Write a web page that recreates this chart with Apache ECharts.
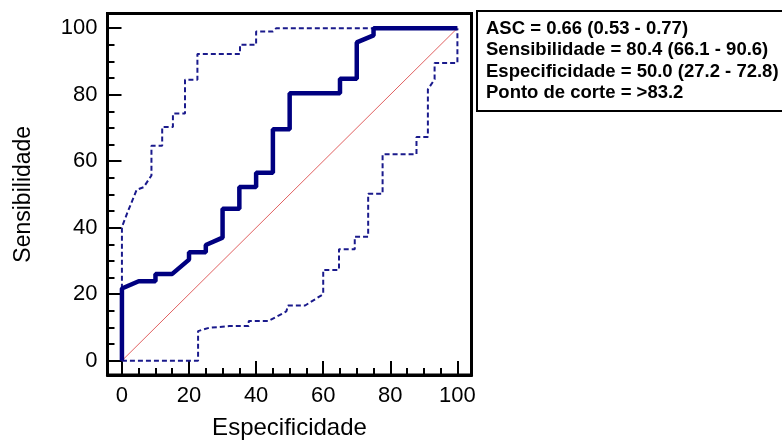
<!DOCTYPE html>
<html>
<head>
<meta charset="utf-8">
<script src="https://cdn.jsdelivr.net/npm/echarts@6/dist/echarts.min.js"></script>
<style>
html,body{margin:0;padding:0;background:#fff;}
#chart{width:782px;height:445px;}
</style>
</head>
<body>
<div id="chart"></div>
<script>
// ROC curve (Especificidade, Sensibilidade)
var rocSpec = [0, 0, 5, 10, 10, 15, 20, 20, 25, 25, 30, 30, 35, 35, 40, 40, 45, 45, 50, 50, 65, 65, 70, 70, 75, 75, 100];
var rocSens = [0, 21.7, 23.9, 23.9, 26.1, 26.1, 30.4, 32.6, 32.6, 34.8, 37.0, 45.7, 45.7, 52.2, 52.2, 56.5, 56.5, 69.6, 69.6, 80.4, 80.4, 84.8, 84.8, 95.7, 97.8, 100, 100];

// Upper confidence bound
var upSpec = [0, 0, 1.7, 4.4, 6.5, 8.8, 8.8, 12, 12, 15.2, 15.2, 18.8, 18.8, 22.5, 22.5, 35.2, 35.2, 40, 40, 45, 46, 100];
var upSens = [0, 40.2, 44.7, 51.4, 52.2, 55.7, 64.6, 64.6, 70.3, 70.3, 74.3, 74.3, 84.5, 84.5, 92.2, 92.2, 95, 95, 99, 99, 100, 100];

// Lower confidence bound
var loSpec = [0, 22.7, 22.7, 26, 32, 37.8, 37.8, 43.6, 49, 49.5, 54.6, 60, 60, 64.7, 64.7, 69.4, 69.4, 73.4, 73.4, 77.7, 77.7, 87.8, 87.8, 91.2, 91.2, 93.2, 93.2, 100, 100];
var loSens = [0, 0, 8.9, 9.9, 10.4, 10.4, 11.9, 11.9, 14.8, 16.6, 16.6, 20, 27.3, 27.3, 33.5, 33.5, 37.3, 37.3, 50.2, 50.2, 62.1, 62.1, 67.3, 67.3, 81.6, 84.6, 89.5, 89.5, 100];

// Reference diagonal
var diagSpec = [0, 100];
var diagSens = [0, 100];

// Axis ticks
var majorTicks = [0, 20, 40, 60, 80, 100];
var minorTicks = [5, 10, 15, 25, 30, 35, 45, 50, 55, 65, 70, 75, 85, 90, 95];

// Text box
var statsLines = [
  'ASC = 0.66 (0.53 - 0.77)',
  'Sensibilidade = 80.4 (66.1 - 90.6)',
  'Especificidade = 50.0 (27.2 - 72.8)',
  'Ponto de corte = >83.2'
];

function zip(a, b) { return a.map(function (v, i) { return [v, b[i]]; }); }

var FONT = 'Liberation Sans, Arial, sans-serif';
var XMIN = -4.3, XMAX = 104.2, YMIN = -4.3, YMAX = 104.4;

function axisPair(pos, min, max, nameCfg) {
  var major = Object.assign({
    type: 'value', min: min, max: max, position: pos,
    axisLine: { show: true, onZero: false, lineStyle: { color: '#000', width: 3 } },
    splitLine: { show: false },
    axisTick: { show: true, inside: true, length: 14, customValues: majorTicks,
      lineStyle: { color: '#000', width: 2 } },
    axisLabel: { customValues: majorTicks, margin: 10, color: '#000', fontSize: 22, fontFamily: FONT }
  }, nameCfg);
  var minor = {
    type: 'value', min: min, max: max, position: pos,
    axisLine: { show: false, onZero: false },
    splitLine: { show: false },
    axisTick: { show: true, inside: true, length: 7, customValues: minorTicks,
      lineStyle: { color: '#000', width: 2 } },
    axisLabel: { show: false }
  };
  return [major, minor];
}

var chart = echarts.init(document.getElementById('chart'));
chart.setOption({
  animation: false,
  title: {
    left: 477, top: 11,
    text: statsLines.join('\n'),
    padding: [7, 40, 7, 9],
    borderColor: '#000', borderWidth: 2, backgroundColor: '#fff',
    textStyle: { fontFamily: FONT, fontWeight: 'bold', fontSize: 18.5, lineHeight: 21.5, color: '#000' }
  },
  grid: {
    left: 107.5, right: 310.5, top: 13.5, bottom: 67.7,
    show: true, borderColor: '#000', borderWidth: 3, backgroundColor: 'transparent'
  },
  xAxis: axisPair('bottom', XMIN, XMAX, {
    name: 'Especificidade', nameLocation: 'middle', nameGap: 41,
    nameTextStyle: { color: '#000', fontSize: 24, fontFamily: FONT }
  }),
  yAxis: axisPair('left', YMIN, YMAX, {
    name: 'Sensibilidade', nameLocation: 'middle', nameGap: 72,
    nameTextStyle: { color: '#000', fontSize: 23, fontFamily: FONT }
  }),
  series: [
    { type: 'line', data: zip(upSpec, upSens), showSymbol: false,
      lineStyle: { color: '#1a1a8c', width: 2, type: [5, 3] } },
    { type: 'line', data: zip(loSpec, loSens), showSymbol: false,
      lineStyle: { color: '#1a1a8c', width: 2, type: [5, 3] } },
    { type: 'line', data: zip(diagSpec, diagSens), showSymbol: false,
      lineStyle: { color: '#e06060', width: 1 } },
    { type: 'line', data: zip(rocSpec, rocSens), showSymbol: false,
      lineStyle: { color: '#000080', width: 4.5 } }
  ]
});
</script>
</body>
</html>
